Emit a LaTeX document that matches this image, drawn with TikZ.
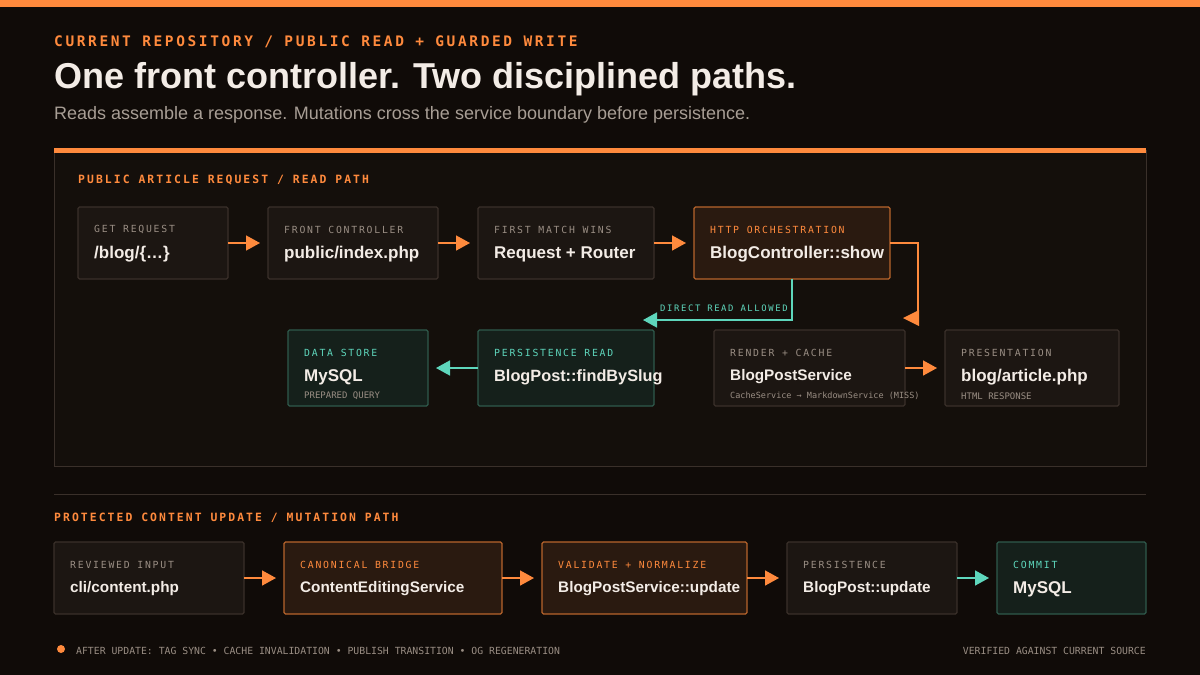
\documentclass[tikz,border=0pt]{standalone}
\usepackage{fontspec}
\setmainfont{Liberation Sans}
\newfontfamily\monolab[LetterSpace=18]{DejaVu Sans Mono}
\newfontfamily\monosm{DejaVu Sans Mono}
\usetikzlibrary{arrows.meta}
\definecolor{bg}{HTML}{100B08}
\definecolor{org}{HTML}{FF8A3D}
\definecolor{teal}{HTML}{5ED6BC}
\definecolor{boxf}{HTML}{1C1612}
\definecolor{boxd}{HTML}{3A302A}
\definecolor{orgf}{HTML}{2A1A10}
\definecolor{orgd}{HTML}{B8652C}
\definecolor{tealf}{HTML}{15201B}
\definecolor{teald}{HTML}{2F5A4C}
\definecolor{panf}{HTML}{140F0B}
\definecolor{muted}{HTML}{9A8E84}
\definecolor{wht}{HTML}{F3ECE6}
\definecolor{sub}{HTML}{A89E95}
\tikzset{
 x=1pt,y=-1pt,
 box/.style={draw=boxd,fill=boxf,line width=1.2pt,rounded corners=1.5pt},
 obox/.style={box,draw=orgd,fill=orgf},
 tbox/.style={box,draw=teald,fill=tealf},
 lab/.style={anchor=west,inner sep=0,text=muted,font=\monolab\fontsize{9.8}{11}\selectfont},
 olab/.style={lab,text=org},
 tlab/.style={lab,text=teal},
 main/.style={anchor=west,inner sep=0,text=wht,font=\bfseries\fontsize{17}{19}\selectfont},
 mmain/.style={main,font=\bfseries\fontsize{15.3}{17}\selectfont},
 note/.style={anchor=west,inner sep=0,text=muted,font=\monosm\fontsize{9}{10}\selectfont},
 sect/.style={olab,font=\monolab\bfseries\fontsize{11.4}{13}\selectfont},
 arr/.style={draw=org,line width=1.6pt,-{Triangle[length=14pt,width=15pt]}},
 tarr/.style={arr,draw=teal},
}
\begin{document}
\begin{tikzpicture}
\useasboundingbox (0,0) rectangle (1200,675);
\fill[bg] (0,0) rectangle (1200,675);
\fill[org] (0,0) rectangle (1200,7);
\node[anchor=west,inner sep=0,text=org,font=\monolab\bfseries\fontsize{14.5}{16}\selectfont] (kick) at (54,42) {CURRENT REPOSITORY / PUBLIC READ + GUARDED WRITE};
\node[anchor=west,inner sep=0,text=wht,font=\bfseries\fontsize{36}{40}\selectfont] (title) at (54,79) {One front controller. Two disciplined paths.};
\node[anchor=west,inner sep=0,text=sub,font=\fontsize{18}{20}\selectfont] (subt) at (54,115) {Reads assemble a response. Mutations cross the service boundary before persistence.};
% panel
\draw[boxd,fill=panf,line width=1pt] (54,150) rectangle (1146,466);
\fill[org] (54,148) rectangle (1146,153);
\node[sect] (rl) at (78,180) {PUBLIC ARTICLE REQUEST / READ PATH};
% row 1
\draw[box] (78,207) rectangle (228,279);
\node[lab] at (94,230) {GET REQUEST}; \node[main] at (94,254) {/blog/\{…\}};
\draw[box] (268,207) rectangle (438,279);
\node[lab] at (284,230) {FRONT CONTROLLER}; \node[main] at (284,254) {public/index.php};
\draw[box] (478,207) rectangle (654,279);
\node[lab] at (494,230) {FIRST MATCH WINS}; \node[main] at (494,254) {Request + Router};
\draw[obox] (694,207) rectangle (890,279);
\node[olab] at (710,230) {HTTP ORCHESTRATION}; \node[main] at (710,254) {BlogController::show};
\coordinate (a1s) at (228,243); \coordinate (a1e) at (260,243);
\coordinate (a2s) at (438,243); \coordinate (a2e) at (470,243);
\coordinate (a3s) at (654,243); \coordinate (a3e) at (686,243);
\draw[arr] (a1s) -- (a1e); \draw[arr] (a2s) -- (a2e); \draw[arr] (a3s) -- (a3e);
% orange down connector
\coordinate (hs) at (890,243);
\draw[org,line width=1.6pt] (hs) -- (918,243) -- (918,312);
\fill[org] (903,318) -- (919,310) -- (919,326) -- cycle;
% teal connector
\coordinate (ts) at (792,279); \coordinate (te) at (643,320);
\draw[tarr] (ts) -- (792,320) -- (te);
\node[tlab,font=\monolab\fontsize{8.9}{10}\selectfont] at (660,308) {DIRECT READ ALLOWED};
% row 2
\draw[tbox] (288,330) rectangle (428,406);
\node[tlab] at (304,353) {DATA STORE}; \node[main] at (304,377) {MySQL};
\node[note] at (304,396) {PREPARED QUERY};
\draw[tbox] (478,330) rectangle (654,406);
\node[tlab] at (494,353) {PERSISTENCE READ}; \node[main,font=\bfseries\fontsize{16.3}{18}\selectfont] at (494,377) {BlogPost::findBySlug};
\draw[box] (714,330) rectangle (905,406);
\node[lab] at (730,353) {RENDER + CACHE}; \node[mmain] at (730,377) {BlogPostService};
\node[note,font=\monosm\fontsize{8.5}{10}\selectfont] at (730,396) {CacheService → MarkdownService (MISS)};
\draw[box] (945,330) rectangle (1119,406);
\node[lab] at (961,353) {PRESENTATION}; \node[main] at (961,377) {blog/article.php};
\node[note] at (961,396) {HTML RESPONSE};
\coordinate (p1s) at (478,368); \coordinate (p1e) at (436,368);
\draw[tarr] (p1s) -- (p1e);
\coordinate (p2s) at (905,368); \coordinate (p2e) at (937,368);
\draw[arr] (p2s) -- (p2e);
% separator
\draw[boxd,line width=1pt] (54,494) -- (1146,494);
\node[sect] at (54,518) {PROTECTED CONTENT UPDATE / MUTATION PATH};
\draw[box] (54,542) rectangle (244,614);
\node[lab] at (70,565) {REVIEWED INPUT}; \node[mmain] at (70,589) {cli/content.php};
\draw[obox] (284,542) rectangle (502,614);
\node[olab] at (300,565) {CANONICAL BRIDGE}; \node[mmain] at (300,589) {ContentEditingService};
\draw[obox] (542,542) rectangle (747,614);
\node[olab] at (558,565) {VALIDATE + NORMALIZE}; \node[mmain] at (558,589) {BlogPostService::update};
\draw[box] (787,542) rectangle (957,614);
\node[lab] at (803,565) {PERSISTENCE}; \node[mmain] at (803,589) {BlogPost::update};
\draw[tbox] (997,542) rectangle (1146,614);
\node[tlab] at (1013,565) {COMMIT}; \node[main] at (1013,589) {MySQL};
\coordinate (m1s) at (244,578); \coordinate (m1e) at (276,578);
\coordinate (m2s) at (502,578); \coordinate (m2e) at (534,578);
\coordinate (m3s) at (747,578); \coordinate (m3e) at (779,578);
\coordinate (m4s) at (957,578); \coordinate (m4e) at (989,578);
\draw[arr] (m1s) -- (m1e); \draw[arr] (m2s) -- (m2e); \draw[arr] (m3s) -- (m3e);
\draw[tarr] (m4s) -- (m4e);
% footer
\fill[org] (61,649) circle (4);
\node[note,font=\monosm\fontsize{9.8}{11}\selectfont] at (76,651) {AFTER UPDATE: TAG SYNC • CACHE INVALIDATION • PUBLISH TRANSITION • OG REGENERATION};
\node[note,anchor=east,font=\monosm\fontsize{9.8}{11}\selectfont] at (1146,651) {VERIFIED AGAINST CURRENT SOURCE};
\end{tikzpicture}
\end{document}
